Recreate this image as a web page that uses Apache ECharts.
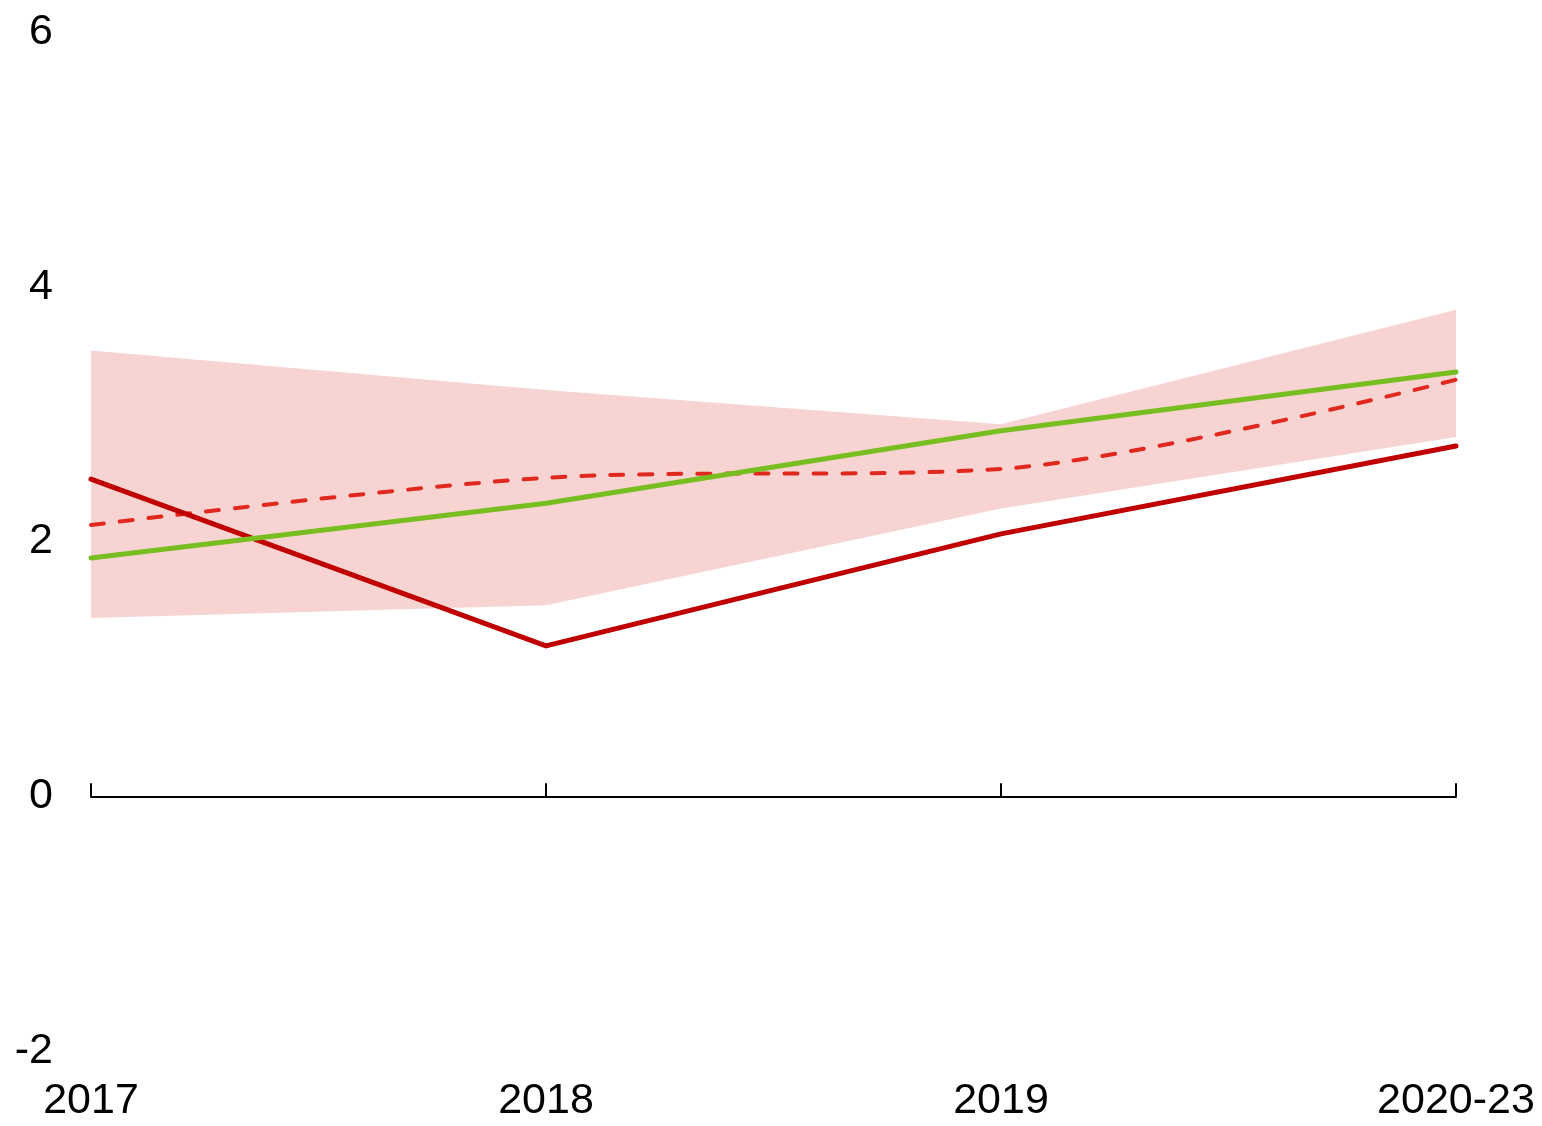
<!DOCTYPE html>
<html style="height:100%;width:100%;">

<head>
  <meta charset="utf-8">
  <title>line band</title>
  <script src="https://cdn.jsdelivr.net/npm/echarts@6/dist/echarts.min.js"></script>
</head>

<body style="margin:0px;height:100%;width:100%;background:#fff;">
  <div id="main" style="width:1542px;height:1126px"></div>
  <script type="text/javascript" charset="utf-8">
    // 数据
    var categories = ['2017', '2018', '2019', '2020-23'];
    var bandLow = [1.40, 1.50, 2.26, 2.82];
    var bandHigh = [3.50, 3.19, 2.92, 3.82];
    var redSolid = [2.49, 1.18, 2.06, 2.75];
    var greenLine = [1.87, 2.30, 2.87, 3.33];
    var redDashed = [2.13, 2.50, 2.57, 3.27];
    var yTicks = [-2, 0, 2, 4, 6];

    // 区间宽度（叠加面积用）
    var bandWidth = bandHigh.map(function (v, i) { return +(v - bandLow[i]).toFixed(2); });

    var fontBase = 'Liberation Sans, Arial, sans-serif';
    var myChart = echarts.init(document.getElementById('main'));

    var option = {
      animation: false,
      backgroundColor: '#ffffff',
      grid: { left: 91, right: 86, top: 32, bottom: 75 },
      xAxis: [{
        type: 'category',
        data: categories,
        boundaryGap: false,
        position: 'bottom',
        axisLine: { show: false, onZero: false },
        axisTick: { show: false },
        axisLabel: { color: '#000', fontSize: 43, fontFamily: fontBase, margin: 29 },
        splitLine: { show: false }
      }, {
        type: 'category',
        data: categories,
        boundaryGap: false,
        position: 'top',
        axisLine: { show: true, onZero: true, lineStyle: { color: '#000', width: 2 } },
        axisTick: { show: true, inside: false, length: 13, lineStyle: { color: '#000', width: 2 } },
        axisLabel: { show: false },
        splitLine: { show: false }
      }],
      yAxis: {
        type: 'value',
        min: yTicks[0],
        max: yTicks[yTicks.length - 1],
        interval: 2,
        axisLine: { show: false },
        axisTick: { show: false },
        splitLine: { show: false },
        axisLabel: { color: '#000', fontSize: 43, fontFamily: fontBase, margin: 38, padding: [4, 0, 0, 0] }
      },
      series: [{
        name: 'bandBase',
        type: 'line',
        stack: 'band',
        data: bandLow,
        symbol: 'none',
        lineStyle: { opacity: 0 },
        silent: true
      }, {
        name: 'band',
        type: 'line',
        stack: 'band',
        data: bandWidth,
        symbol: 'none',
        lineStyle: { opacity: 0 },
        areaStyle: { color: '#f7d4d1', opacity: 1 },
        silent: true
      }, {
        name: 'red',
        type: 'line',
        data: redSolid,
        symbol: 'none',
        z: 5,
        lineStyle: { color: '#c00000', width: 5, cap: 'round', join: 'round' }
      }, {
        name: 'green',
        type: 'line',
        data: greenLine,
        symbol: 'none',
        z: 6,
        lineStyle: { color: '#78be20', width: 5, cap: 'round', join: 'round' }
      }, {
        name: 'dashed',
        type: 'line',
        data: redDashed,
        symbol: 'none',
        smooth: 0.3,
        z: 4,
        lineStyle: { color: '#e0281e', width: 4, type: [13, 16], cap: 'round' }
      }]
    };

    myChart.setOption(option, true);
  </script>
</body>

</html>
